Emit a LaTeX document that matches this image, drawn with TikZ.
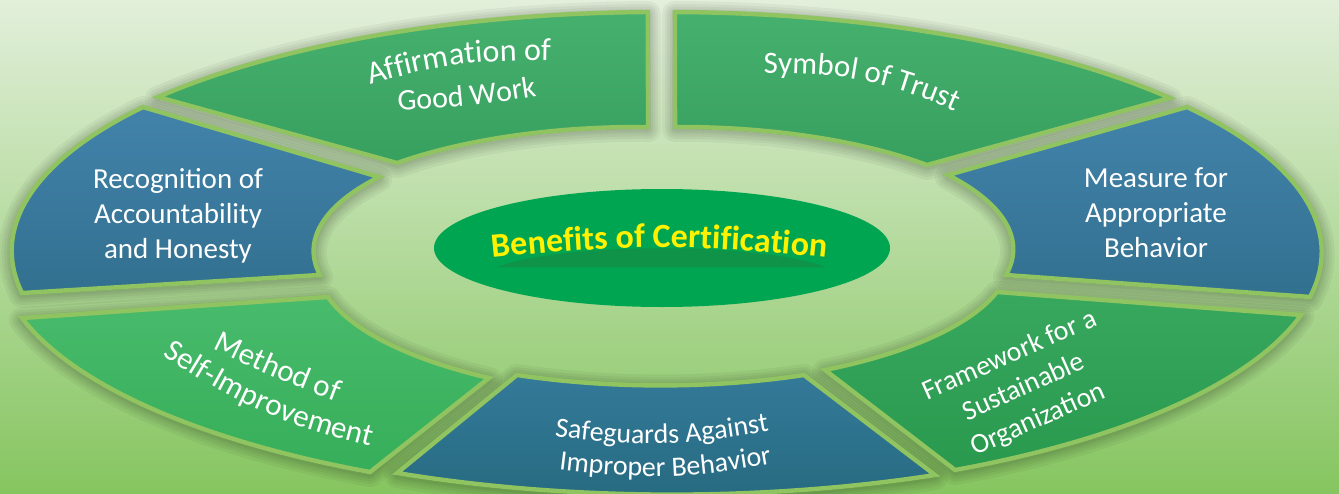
\documentclass[tikz,border=0pt]{standalone}
\usepackage{fontspec}
\setmainfont{Carlito}
\usetikzlibrary{decorations.text}
\definecolor{bgtop}{HTML}{E2EFDA}
\definecolor{bgmid}{HTML}{C0DFAA}
\definecolor{bgbot}{HTML}{86C560}
\definecolor{bord}{HTML}{90C460}
\definecolor{gAt}{HTML}{46B06E}
\definecolor{gAb}{HTML}{37A05E}
\definecolor{blt}{HTML}{4283AB}
\definecolor{blb}{HTML}{32708F}
\definecolor{gDt}{HTML}{38A85F}
\definecolor{gDb}{HTML}{28994D}
\definecolor{bEt}{HTML}{347A99}
\definecolor{bEb}{HTML}{276B81}
\definecolor{gFt}{HTML}{48BB6C}
\definecolor{gFb}{HTML}{36AE59}
\definecolor{cgreen}{HTML}{00A551}
\definecolor{cband}{HTML}{0E9348}
\definecolor{benyel}{HTML}{FFF200}
\newcommand\segsize[1]{\fontsize{#1}{17.5}\selectfont}
\newcommand\pathA{plot[edge] ({OX(\x,-140.58,-91.76,1.0125,1.0005)},{OY(\x,-140.58,-91.76,1.0125,1.0005)})
 -- plot[edge] ({IX(\x,-92.37,-137.90,0.9848,1.0382)},{IY(\x,-92.37,-137.90,0.9848,1.0382)}) -- cycle}
\newcommand\pathB{plot[edge] ({OX(\x,-89.39,-39.68,1.0,1.0003)},{OY(\x,-89.39,-39.68,1.0,1.0003)})
 -- plot[edge] ({IX(\x,-41.44,-87.80,1.0275,0.9847)},{IY(\x,-41.44,-87.80,1.0275,0.9847)}) -- cycle}
\newcommand\pathC{plot[edge] ({OX(\x,-37.04,11.34,0.9973,1.0043)},{OY(\x,-37.04,11.34,0.9973,1.0043)})
 -- plot[edge] ({IX(\x,11.31,-35.82,1.0198,1.0253)},{IY(\x,11.31,-35.82,1.0198,1.0253)}) -- cycle}
\newcommand\pathD{plot[edge] ({OX(\x,15.71,64.54,1.0086,1.0239)},{OY(\x,15.71,64.54,1.0086,1.0239)})
 -- plot[edge] ({IX(\x,63.73,19.03,1.0706,1.0301)},{IY(\x,63.73,19.03,1.0706,1.0301)}) -- cycle}
\newcommand\pathE{plot[edge] ({OX(\x,66.58,113.92,1.0303,1.0250)},{OY(\x,66.58,113.92,1.0303,1.0250)})
 -- plot[edge] ({IX(\x,112.86,67.57,1.0852,1.0819)},{IY(\x,112.86,67.57,1.0852,1.0819)}) -- cycle}
\newcommand\pathF{plot[edge] ({OX(\x,116.10,163.91,1.0388,1.0312)},{OY(\x,116.10,163.91,1.0388,1.0312)})
 -- plot[edge] ({IX(\x,158.83,116.16,1.0412,1.1408)},{IY(\x,158.83,116.16,1.0412,1.1408)}) -- cycle}
\newcommand\pathG{plot[edge] ({OX(\x,169.66,216.73,1.0072,1.0046)},{OY(\x,169.66,216.73,1.0072,1.0046)})
 -- plot[edge] ({IX(\x,215.37,168.63,1.0089,1.0141)},{IY(\x,215.37,168.63,1.0089,1.0141)}) -- cycle}
\begin{document}
\begin{tikzpicture}[x=0.5pt,y=-0.5pt,
 declare function={
  OX(\fr,\ta,\tb,\ka,\kb)=668+652*(\ka+(\kb-\ka)*\fr)*cos(\ta+(\tb-\ta)*\fr);
  OY(\fr,\ta,\tb,\ka,\kb)=250+238*(\ka+(\kb-\ka)*\fr)*sin(\ta+(\tb-\ta)*\fr);
  IX(\fr,\ta,\tb,\ka,\kb)=662+344*(\ka+(\kb-\ka)*\fr)*cos(\ta+(\tb-\ta)*\fr);
  IY(\fr,\ta,\tb,\ka,\kb)=250+125*(\ka+(\kb-\ka)*\fr)*sin(\ta+(\tb-\ta)*\fr);
 },
 edge/.style={domain=0:1,samples=40},
 seg/.style={draw=bord, line width=2.2pt, line join=miter},
 halo/.style={draw=black, fill=black, line join=round, opacity=0.045},
 lbl/.style={text=white, align=center, inner sep=0pt},
]
\useasboundingbox (0,0) rectangle (1339,493);
\clip (0,0) rectangle (1339,493);
\shade[top color=bgtop, middle color=bgmid, bottom color=bgbot] (0,0) rectangle (1339,493);

% soft shadows first
\foreach \w in {13,10,7.5,5,3} {
  \path[halo, line width=\w pt, yshift=-1pt] \pathA;
  \path[halo, line width=\w pt, yshift=-1pt] \pathB;
  \path[halo, line width=\w pt, yshift=-1pt] \pathC;
  \path[halo, line width=\w pt, yshift=-1pt] \pathD;
  \path[halo, line width=\w pt, yshift=-1pt] \pathE;
  \path[halo, line width=\w pt, yshift=-1pt] \pathF;
  \path[halo, line width=\w pt, yshift=-1pt] \pathG;
}

% segments
\path[seg, top color=gAt, bottom color=gAb] \pathA;
\path[seg, top color=gAt, bottom color=gAb] \pathB;
\path[seg, top color=blt, bottom color=blb] \pathC;
\path[seg, top color=gDt, bottom color=gDb] \pathD;
\path[seg, top color=bEt, bottom color=bEb] \pathE;
\path[seg, top color=gFt, bottom color=gFb] \pathF;
\path[seg, top color=blt, bottom color=blb] \pathG;

% centre
\fill[cgreen] (662,248) ellipse [x radius=228, y radius=59];
\fill[cband] (497,267) .. controls (565,242) and (757,242) .. (826,267) -- cycle;
\path[decorate, decoration={text along path, text align=center, text color=benyel,
  text={|\fontsize{17}{20}\selectfont\bfseries|Benefits of Certification}}]
  (490,258) to[bend left=6] (829,258);

% labels
\node[lbl, font=\segsize{14.5}] (recog) at (178,216) {Recognition of\\Accountability\\and Honesty};
\node[lbl, font=\segsize{14.5}] (meas) at (1156,213) {Measure for\\Appropriate\\Behavior};
\node[lbl, font=\segsize{14}, rotate=24] (frame) at (1024,388) {Framework for a\\Sustainable\\Organization};

\path[decorate, decoration={text along path, text align=center, text color=white,
  text={|\segsize{16}|Affirmation of}}] (365,86) to[bend left=9] (556,61);
\path[decorate, decoration={text along path, text align=center, text color=white,
  text={|\segsize{15}|Good Work}}] (397,111) to[bend right=3] (538,96);
\path[decorate, decoration={text along path, text align=center, text color=white,
  text={|\segsize{15.5}|Symbol of Trust}}] (760,74) to[bend left=13] (959,113);
\path[decorate, decoration={text along path, text align=center, text color=white,
  text={|\segsize{15.5}|Method of}}] (210,347) to[bend right=3] (339,403);
\path[decorate, decoration={text along path, text align=center, text color=white,
  text={|\segsize{15.5}|Self-Improvement}}] (157,352) to[bend right=10] (377,448);
\path[decorate, decoration={text along path, text align=center, text color=white,
  text={|\segsize{14}|Safeguards Against}}] (554,436) to[bend right=9] (770,431);
\path[decorate, decoration={text along path, text align=center, text color=white,
  text={|\segsize{14}|Improper Behavior}}] (555,469) to[bend right=9] (776,463);
\end{tikzpicture}
\end{document}
